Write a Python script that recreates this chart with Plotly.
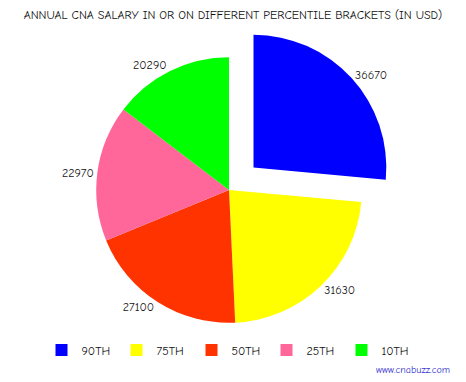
import plotly.graph_objects as go

labels = ["90TH", "75TH", "50TH", "25TH", "10TH"]
values = [36670, 31630, 27100, 22970, 20290]
colors = ["#0000FF", "#FFFF00", "#FF3300", "#FF6699", "#00FF00"]
pulls = [0.25, 0, 0, 0, 0]

W, H = 466, 382
font_family = "Comic Neue, Comic Sans MS, Open Sans, DejaVu Sans, sans-serif"

fig = go.Figure(go.Pie(
    labels=labels,
    values=values,
    marker=dict(colors=colors, line=dict(width=0)),
    pull=pulls,
    sort=False,
    direction="clockwise",
    rotation=0,
    textposition="outside",
    texttemplate="%{value:.0f}",
    textfont=dict(size=12, color="#111111", family=font_family),
    hoverinfo="label+value",
    domain=dict(x=[(229 - 166) / W, (229 + 166) / W],
                y=[(H - 190 - 166) / H, (H - 190 + 166) / H]),
    automargin=False,
))

fig.update_layout(
    width=W, height=H,
    margin=dict(l=0, r=0, t=0, b=0),
    paper_bgcolor="white",
    plot_bgcolor="white",
    title=dict(text="ANNUAL CNA SALARY IN OR ON DIFFERENT PERCENTILE BRACKETS (IN USD)",
               x=0.5, xanchor="center", y=1 - 15 / H, yanchor="middle",
               font=dict(size=12, color="#111111", family=font_family)),
    showlegend=True,
    legend=dict(orientation="h", x=0.5 - 4 / W, xanchor="center", y=(H - 350) / H, yanchor="middle",
                font=dict(size=12, color="#111111", family=font_family),
                entrywidth=30, traceorder="normal", itemclick=False),
    annotations=[dict(text="www.cnabuzz.com", x=452 / W, y=(H - 370) / H,
                      xref="paper", yref="paper", xanchor="right", yanchor="middle",
                      showarrow=False, font=dict(size=10, color="#3333CC", family=font_family))],
)

fig.write_html("out.html", config={"displayModeBar": False},
               post_script="document.body.style.margin='0';")
